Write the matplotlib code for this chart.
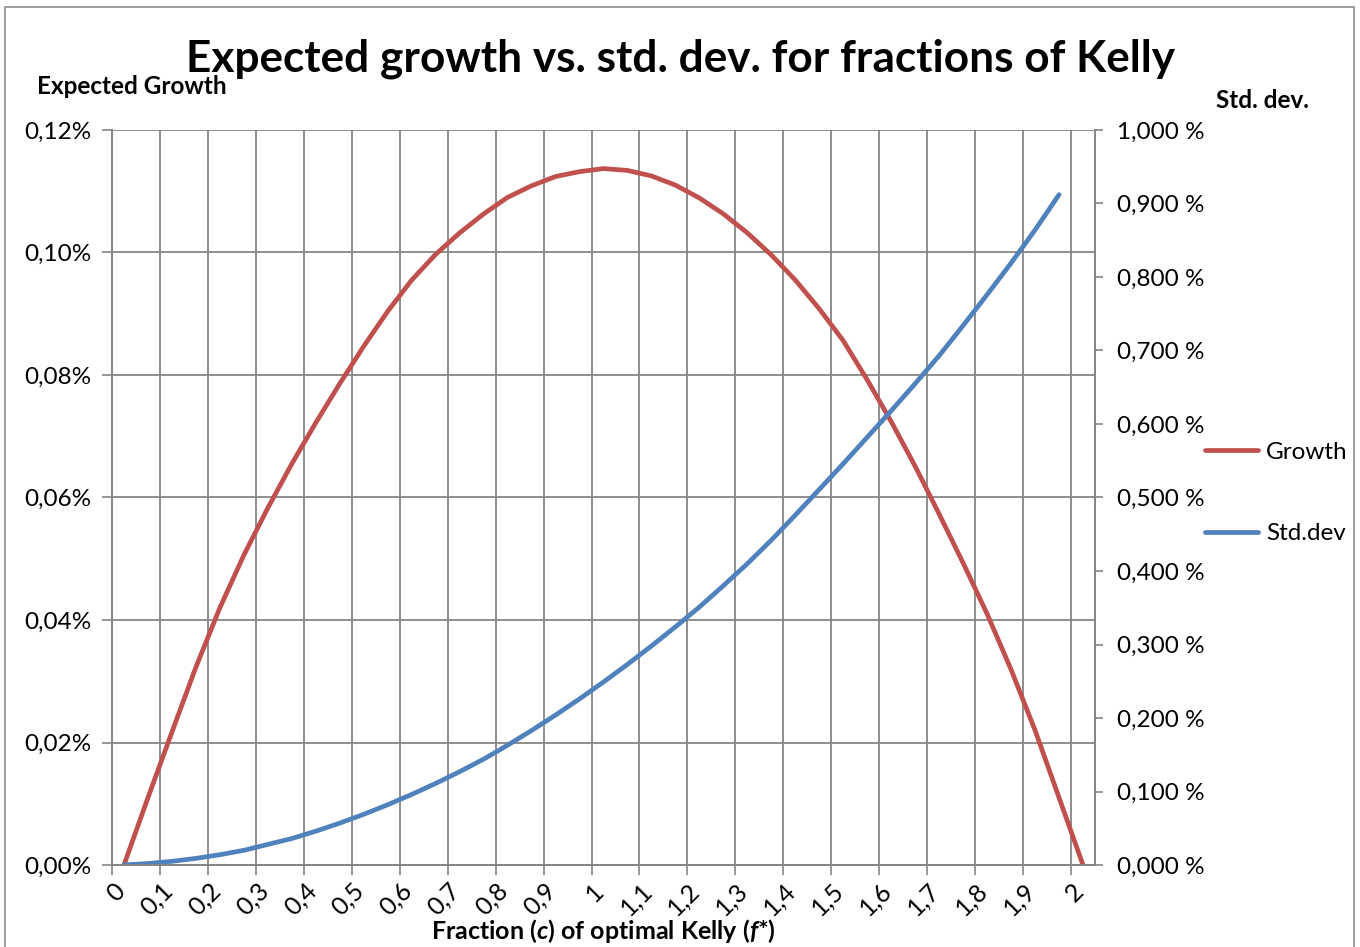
import matplotlib
matplotlib.use("Agg")
import numpy as np
import matplotlib.pyplot as plt
import matplotlib.transforms as mtransforms
from matplotlib.ticker import FuncFormatter, MultipleLocator, FixedLocator
from matplotlib.patches import Rectangle

# fraction c of optimal Kelly (category axis, step 0.05)
fractions = [0.00, 0.05, 0.10, 0.15, 0.20, 0.25, 0.30, 0.35, 0.40, 0.45,
             0.50, 0.55, 0.60, 0.65, 0.70, 0.75, 0.80, 0.85, 0.90, 0.95,
             1.00, 1.05, 1.10, 1.15, 1.20, 1.25, 1.30, 1.35, 1.40, 1.45,
             1.50, 1.55, 1.60, 1.65, 1.70, 1.75, 1.80, 1.85, 1.90, 1.95, 2.00]

# expected growth, in percent
growth = [0.0000, 0.0110, 0.0217, 0.0323, 0.0420, 0.0506, 0.0583, 0.0655, 0.0722, 0.0786,
          0.0847, 0.0904, 0.0955, 0.0997, 0.1032, 0.1063, 0.1090, 0.1109, 0.1124, 0.1132,
          0.1137, 0.1134, 0.1125, 0.1110, 0.1089, 0.1063, 0.1032, 0.0996, 0.0955, 0.0908,
          0.0856, 0.0792, 0.0724, 0.0651, 0.0573, 0.0493, 0.0410, 0.0319, 0.0220, 0.0110,
          0.0000]

# std. dev., in percent (no value at 2.0)
std_dev = [0.000, 0.002, 0.005, 0.009, 0.014, 0.020, 0.028, 0.036, 0.046, 0.057,
           0.069, 0.082, 0.096, 0.111, 0.127, 0.144, 0.163, 0.183, 0.204, 0.226,
           0.249, 0.273, 0.298, 0.324, 0.351, 0.380, 0.410, 0.442, 0.476, 0.511,
           0.546, 0.582, 0.618, 0.655, 0.693, 0.734, 0.776, 0.819, 0.864, 0.912,
           np.nan]

FONT = "Lato"
plt.rcParams["font.family"] = FONT
plt.rcParams["mathtext.fontset"] = "custom"
plt.rcParams["mathtext.rm"] = FONT + ":bold"
plt.rcParams["mathtext.it"] = FONT + ":bold:italic"

RED = "#C0504D"
BLUE = "#4F81BD"
GRID = "#868686"

W, H = 1360, 947
fig = plt.figure(figsize=(W / 100, H / 100), dpi=100)
ax = fig.add_axes([112 / W, 1 - 865 / H, (1095 - 112) / W, (865 - 130) / H])
ax2 = ax.twinx()

x = np.arange(len(fractions))
line_g, = ax.plot(x, growth, color=RED, lw=3.4, solid_capstyle="round",
                  solid_joinstyle="round", label="Growth")
line_s, = ax2.plot(x, std_dev, color=BLUE, lw=3.4, solid_capstyle="round",
                   solid_joinstyle="round", label="Std.dev")

# x axis: gridlines/ticks between categories every 2, labels every 2 categories
ax.set_xlim(-0.5, len(fractions) - 0.5)
ax.xaxis.set_major_locator(FixedLocator(np.arange(-0.5, len(fractions) - 0.5, 2)))
ax.xaxis.set_major_formatter(FuncFormatter(lambda v, p: ""))
ax.xaxis.set_minor_locator(FixedLocator(x[::2]))
ax.set_xticklabels([f"{v:g}".replace(".", ",") for v in fractions[::2]], minor=True)
ax.tick_params(axis="x", which="major", length=7, width=1.2, color=GRID, direction="out")
ax.tick_params(axis="x", which="minor", length=0, pad=10, labelsize=18, labelrotation=45)
shift = mtransforms.ScaledTranslation(5 / 100, 0, fig.dpi_scale_trans)
for lbl in ax.get_xticklabels(minor=True):
    lbl.set_ha("right")
    lbl.set_va("top")
    lbl.set_transform(lbl.get_transform() + shift)

ax.set_ylim(0, 0.12)
ax.yaxis.set_major_locator(MultipleLocator(0.02))
ax.yaxis.set_major_formatter(FuncFormatter(lambda v, p: f"{v:.2f}%".replace(".", ",")))
ax.tick_params(axis="y", length=7, width=1.2, color=GRID, labelsize=17.5, pad=8)

ax2.set_ylim(0, 1.0)
ax2.yaxis.set_major_locator(MultipleLocator(0.1))
ax2.yaxis.set_major_formatter(FuncFormatter(lambda v, p: f"{v:.3f} %".replace(".", ",")))
ax2.tick_params(axis="y", length=6, width=1.2, color=GRID, labelsize=17.5, pad=10)

ax.grid(True, which="major", color=GRID, lw=1.3)
ax.set_axisbelow(True)
for a in (ax, ax2):
    for sp in a.spines.values():
        sp.set_color(GRID)
        sp.set_linewidth(1.3)
    a.spines["top"].set_visible(False)

# chart area frame
fig.patches.append(Rectangle((5 / W, -0.01), (1354 - 5) / W, 1.01 - 7 / H,
                             transform=fig.transFigure, fill=False,
                             edgecolor="#8c8c8c", lw=1.2))

fig.text(681 / W, 1 - 59 / H, "Expected growth vs. std. dev. for fractions of Kelly",
         ha="center", va="center", fontsize=31.8, fontweight="bold")
fig.text(37 / W, 1 - 87 / H, "Expected Growth", ha="left", va="center",
         fontsize=17.5, fontweight="bold")
fig.text(1262 / W, 1 - 100 / H, "Std. dev.", ha="center", va="center",
         fontsize=17.5, fontweight="bold")
fig.text(603 / W, 1 - 931 / H, r"Fraction ($c$) of optimal Kelly ($f$*)",
         ha="center", va="center", fontsize=18, fontweight="bold")

fig.legend(handles=[line_g, line_s], loc="center left",
           bbox_to_anchor=(1205 / W, 1 - 493 / H), frameon=False,
           fontsize=17.5, handlelength=2.2, handletextpad=0.3, labelspacing=2.5,
           borderpad=0, borderaxespad=0)

fig.savefig("out.png", dpi=100)
